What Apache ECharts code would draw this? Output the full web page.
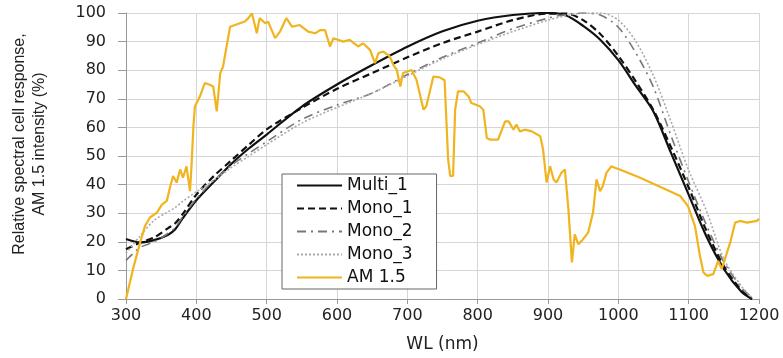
<!DOCTYPE html>
<html>
<head>
<meta charset="utf-8">
<script src="https://cdn.jsdelivr.net/npm/echarts@6/dist/echarts.min.js"></script>
<style>
  html, body { margin: 0; padding: 0; background: #fff; }
  #chart { width: 783px; height: 358px; }
</style>
</head>
<body>
<div id="chart"></div>
<script>
// wavelength grid shared by the four cell response curves (nm)
const respWl = [300, 320, 340, 360, 370, 380, 400, 425, 450, 475, 500, 550, 600, 650, 700, 750, 800, 850, 900, 925, 950, 975, 1000, 1025, 1050, 1075, 1100, 1125, 1150, 1175, 1190]

const multi1 = [21, 19.8, 20.6, 22.5, 24.4, 28, 34.5, 41, 47.3, 52.7, 57.5, 67.3, 75, 81.8, 88.2, 93.6, 97.3, 99.3, 100, 99.2, 95.5, 90.5, 83.5, 74.5, 65.5, 51, 36.5, 22, 10.5, 2.5, 0]
const mono1 = [17.4, 19.7, 21.5, 24.8, 26.5, 29.5, 36.5, 43, 48.5, 54, 59.3, 66.8, 73.5, 79, 84.5, 89.5, 93.5, 97.5, 99.8, 99.8, 97.5, 92.5, 85, 76, 66, 53, 39, 24, 11.5, 3, 0]
const mono2 = [13.5, 18, 20, 23, 25, 28.5, 35, 41.5, 46.8, 51, 55, 62.8, 67.8, 72, 78.5, 84.5, 89.5, 94.5, 98.2, 99.5, 100, 99.2, 95, 86, 74, 57, 41, 26, 13, 4, 0.5]
const mono3 = [16, 22, 27.5, 30.5, 32, 34, 37.5, 41.5, 46, 50, 54, 61.5, 67, 72, 78, 84, 89, 93.5, 97.5, 99, 100, 100, 97.5, 90, 78, 62, 45, 31, 14, 4.5, 0.5]

// AM 1.5 spectrum, read point by point
const amWl = [300, 310, 320, 327, 334, 344, 351, 358, 363, 367, 372, 377, 381, 386, 391, 393, 396, 398, 405, 412, 419, 424, 429, 434, 438, 443, 448, 455, 462, 469, 474, 479, 486, 490, 498, 502, 512, 519, 528, 536, 547, 559, 569, 576, 583, 590, 595, 609, 618, 630, 637, 647, 654, 659, 666, 675, 680, 685, 690, 694, 706, 713, 723, 727, 737, 746, 753, 758, 761, 765, 768, 772, 780, 787, 791, 803, 808, 813, 818, 829, 839, 844, 851, 855, 860, 867, 877, 889, 893, 898, 903, 908, 912, 919, 924, 929, 934, 938, 943, 948, 957, 964, 969, 974, 978, 983, 990, 995, 1002, 1031, 1088, 1099, 1109, 1116, 1121, 1126, 1135, 1142, 1147, 1159, 1166, 1173, 1183, 1197, 1200]
const amVal = [0, 10.5, 19.7, 25.5, 28.5, 30.2, 33, 34.3, 39.5, 43, 40.7, 45.3, 42.4, 46.4, 37.7, 45.9, 61, 67.4, 70.8, 75.5, 74.9, 74.3, 65.6, 79, 81.3, 88.3, 95.2, 95.8, 96.4, 97, 98.2, 99.9, 92.9, 98.2, 96.4, 97, 91.2, 93.5, 98.2, 95.2, 95.8, 93.5, 92.9, 94, 94, 88.3, 91.2, 90, 90.6, 88.3, 89.4, 87.1, 82.5, 86, 86.5, 84.8, 81.9, 80.1, 74.3, 79, 80.1, 76.7, 66.2, 67.4, 77.8, 77.5, 76.5, 48.8, 43, 43, 66.2, 72.6, 72.6, 70.8, 68.5, 67.4, 66.2, 56.3, 55.7, 55.7, 62.1, 62.1, 59.2, 61, 58.6, 59.2, 58.6, 56.9, 52.3, 40.7, 46.4, 41.8, 40.7, 44.1, 45.3, 31.4, 12.8, 22.6, 19.2, 20.3, 23.2, 30.2, 41.8, 37.7, 39.5, 44.1, 46.4, 45.9, 45.3, 42.4, 36, 32.5, 25.5, 15.1, 9.3, 8.1, 8.7, 13.3, 10.5, 19.7, 26.7, 27.3, 26.7, 27.3, 28]

const pairs = (xs, ys) => xs.map((x, i) => [x, ys[i]])

const chart = echarts.init(document.getElementById('chart'))

const tickFont = { fontFamily: 'DejaVu Sans', fontSize: 16, color: '#222' }

const options = {
    animation: false,
    backgroundColor: '#fff',
    grid: { left: 126, right: 24, top: 13, bottom: 58 },
    legend: {
        orient: 'vertical',
        left: 282,
        top: 174,
        padding: [3, 24, 3, 14],
        itemWidth: 45,
        itemHeight: 14,
        itemGap: 6,
        backgroundColor: '#fff',
        borderColor: '#666',
        borderWidth: 1,
        borderRadius: 0,
        itemStyle: { opacity: 0 },
        textStyle: { fontFamily: 'DejaVu Sans', fontSize: 17, lineHeight: 17, color: '#111' },
        data: ['Multi_1', 'Mono_1', 'Mono_2', 'Mono_3', 'AM 1.5']
    },
    xAxis: {
        type: 'value',
        min: 300,
        max: 1200,
        interval: 100,
        name: 'WL (nm)',
        nameLocation: 'middle',
        nameGap: 37,
        nameTextStyle: { fontFamily: 'DejaVu Sans', fontSize: 17, color: '#222' },
        axisLine: { lineStyle: { color: '#999' } },
        axisTick: { show: true, length: 5, lineStyle: { color: '#999' } },
        axisLabel: Object.assign({ margin: 9, formatter: v => String(v) }, tickFont),
        splitLine: { lineStyle: { color: '#d6d6d6' } }
    },
    yAxis: {
        type: 'value',
        min: 0,
        max: 100,
        interval: 10,
        name: 'Relative spectral cell response,\nAM 1.5 intensity (%)',
        nameLocation: 'middle',
        nameRotate: 90,
        nameGap: 76,
        nameTextStyle: { fontFamily: 'Liberation Sans', fontSize: 16, lineHeight: 20, color: '#222', padding: [0, 0, 0, 24] },
        axisLine: { show: true, lineStyle: { color: '#999' } },
        axisTick: { show: true, length: 8, lineStyle: { color: '#999' } },
        axisLabel: Object.assign({ margin: 20 }, tickFont),
        splitLine: { lineStyle: { color: '#d6d6d6' } }
    },
    series: [
        {
            name: 'Multi_1', type: 'line', symbol: 'none', smooth: 0.3,
            data: pairs(respWl, multi1),
            lineStyle: { color: '#111', width: 2.2 }, itemStyle: { color: '#111' }
        },
        {
            name: 'Mono_1', type: 'line', symbol: 'none', smooth: 0.3,
            data: pairs(respWl, mono1),
            lineStyle: { color: '#111', width: 2.2, type: [7, 4] }, itemStyle: { color: '#111' }
        },
        {
            name: 'Mono_2', type: 'line', symbol: 'none', smooth: 0.3,
            data: pairs(respWl, mono2),
            lineStyle: { color: '#777', width: 1.6, type: [9, 5, 2, 5] }, itemStyle: { color: '#777' }
        },
        {
            name: 'Mono_3', type: 'line', symbol: 'none', smooth: 0.3,
            data: pairs(respWl, mono3),
            lineStyle: { color: '#aaa', width: 1.6, type: [2, 2] }, itemStyle: { color: '#aaa' }
        },
        {
            name: 'AM 1.5', type: 'line', symbol: 'none',
            data: pairs(amWl, amVal),
            lineStyle: { color: '#f0b41e', width: 2.2 }, itemStyle: { color: '#f0b41e' }
        }
    ]
}
chart.setOption(options)
</script>
</body>
</html>
